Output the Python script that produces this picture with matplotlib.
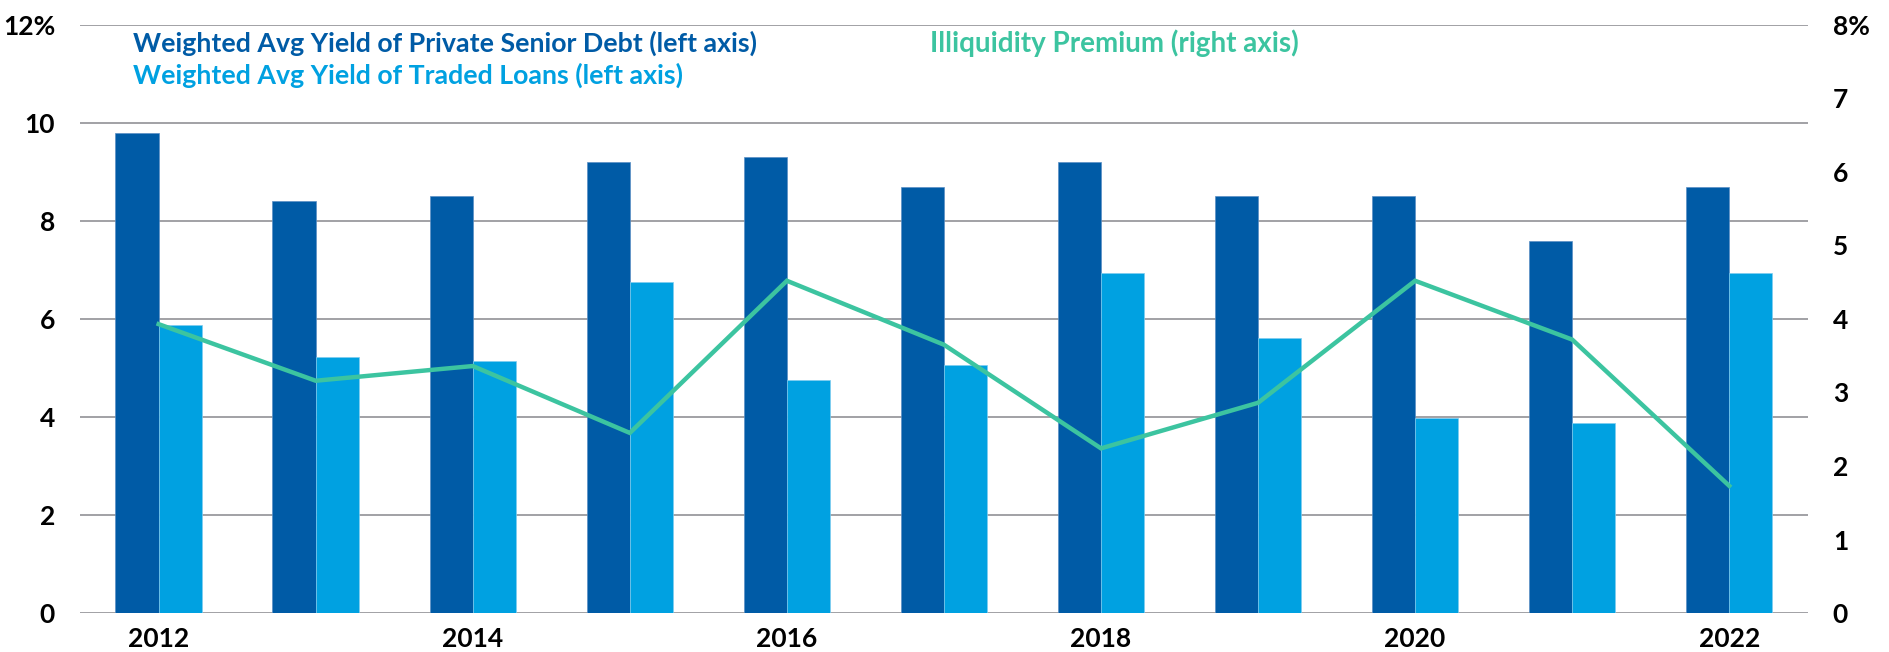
#!/usr/bin/env python3
import matplotlib.pyplot as plt
import numpy as np

# Data
YEARS = [2012, 2013, 2014, 2015, 2016, 2017, 2018, 2019, 2020, 2021, 2022]
PRIVATE_SENIOR = [9.8, 8.4, 8.5, 9.2, 9.3, 8.7, 9.2, 8.5, 8.5, 7.6, 8.7]  # left axis, %
TRADED_LOANS = [5.87, 5.23, 5.15, 6.75, 4.76, 5.06, 6.93, 5.62, 3.98, 3.88, 6.93]  # left axis, %
ILLIQ_PREMIUM = [3.93, 3.16, 3.36, 2.45, 4.52, 3.65, 2.24, 2.86, 4.52, 3.72, 1.73]  # right axis, %

LEFT_TICKS = [0, 2, 4, 6, 8, 10, 12]
RIGHT_TICKS = [0, 1, 2, 3, 4, 5, 6, 7, 8]
XTICK_YEARS = [2012, 2014, 2016, 2018, 2020, 2022]

DARK = "#005BA6"
LIGHT = "#00A1E1"
GREEN = "#3CC4A0"
GRID = "#9A9A9E"

FONT = "Lato"
FS_TICK = 19
FS_LEG = 19.3

plt.rcParams["font.family"] = [FONT, "DejaVu Sans"]


def main():
    fig = plt.figure(figsize=(18.89, 6.52), dpi=100)
    ax = fig.add_axes([0.0424, 0.0598, 0.9146, 0.9019])
    ax2 = ax.twinx()

    x = np.arange(len(YEARS))
    w = 0.275

    ax.bar(x - w / 2, PRIVATE_SENIOR, width=w, color=DARK, zorder=2,
           edgecolor="#5a8fc4", linewidth=0.5)
    ax.bar(x + w / 2, TRADED_LOANS, width=w, color=LIGHT, zorder=2,
           edgecolor="#7fcdf0", linewidth=0.5)
    ax2.plot(x, ILLIQ_PREMIUM, color=GREEN, lw=3.2, solid_joinstyle="miter")

    # left axis
    ax.set_ylim(0, 12)
    ax.set_xlim(-0.5, 10.5)
    ax.set_yticks(LEFT_TICKS)
    ax.set_yticklabels([f"{t}%" if t == 12 else f"{t}" for t in LEFT_TICKS])
    ax.yaxis.grid(True, color=GRID, lw=1.3, zorder=0)
    ax.set_axisbelow(True)

    xt = [YEARS.index(y) for y in XTICK_YEARS]
    ax.set_xticks(xt)
    ax.set_xticklabels([str(y) for y in XTICK_YEARS])

    # right axis
    ax2.set_ylim(0, 8)
    ax2.set_yticks(RIGHT_TICKS)
    ax2.set_yticklabels([f"{t}%" if t == 8 else f"{t}" for t in RIGHT_TICKS])

    for a in (ax, ax2):
        for s in a.spines.values():
            s.set_visible(False)
        a.tick_params(length=0)
        for lab in a.get_yticklabels() + a.get_xticklabels():
            lab.set_fontsize(FS_TICK)
            lab.set_fontweight("bold")
            lab.set_color("black")
    ax.tick_params(axis="y", pad=18)
    ax2.tick_params(axis="y", pad=18)
    ax.tick_params(axis="x", pad=10)

    # legend as coloured text at the top
    fig.text(133 / 1889, 1 - 43 / 652, "Weighted Avg Yield of Private Senior Debt (left axis)",
             color=DARK, fontsize=FS_LEG, fontweight="bold", va="center")
    fig.text(133 / 1889, 1 - 75 / 652, "Weighted Avg Yield of Traded Loans (left axis)",
             color=LIGHT, fontsize=FS_LEG, fontweight="bold", va="center")
    fig.text(930 / 1889, 1 - 43 / 652, "Illiquidity Premium (right axis)",
             color=GREEN, fontsize=20, fontweight="bold", va="center")

    fig.savefig("out.png", dpi=100)


if __name__ == "__main__":
    main()
